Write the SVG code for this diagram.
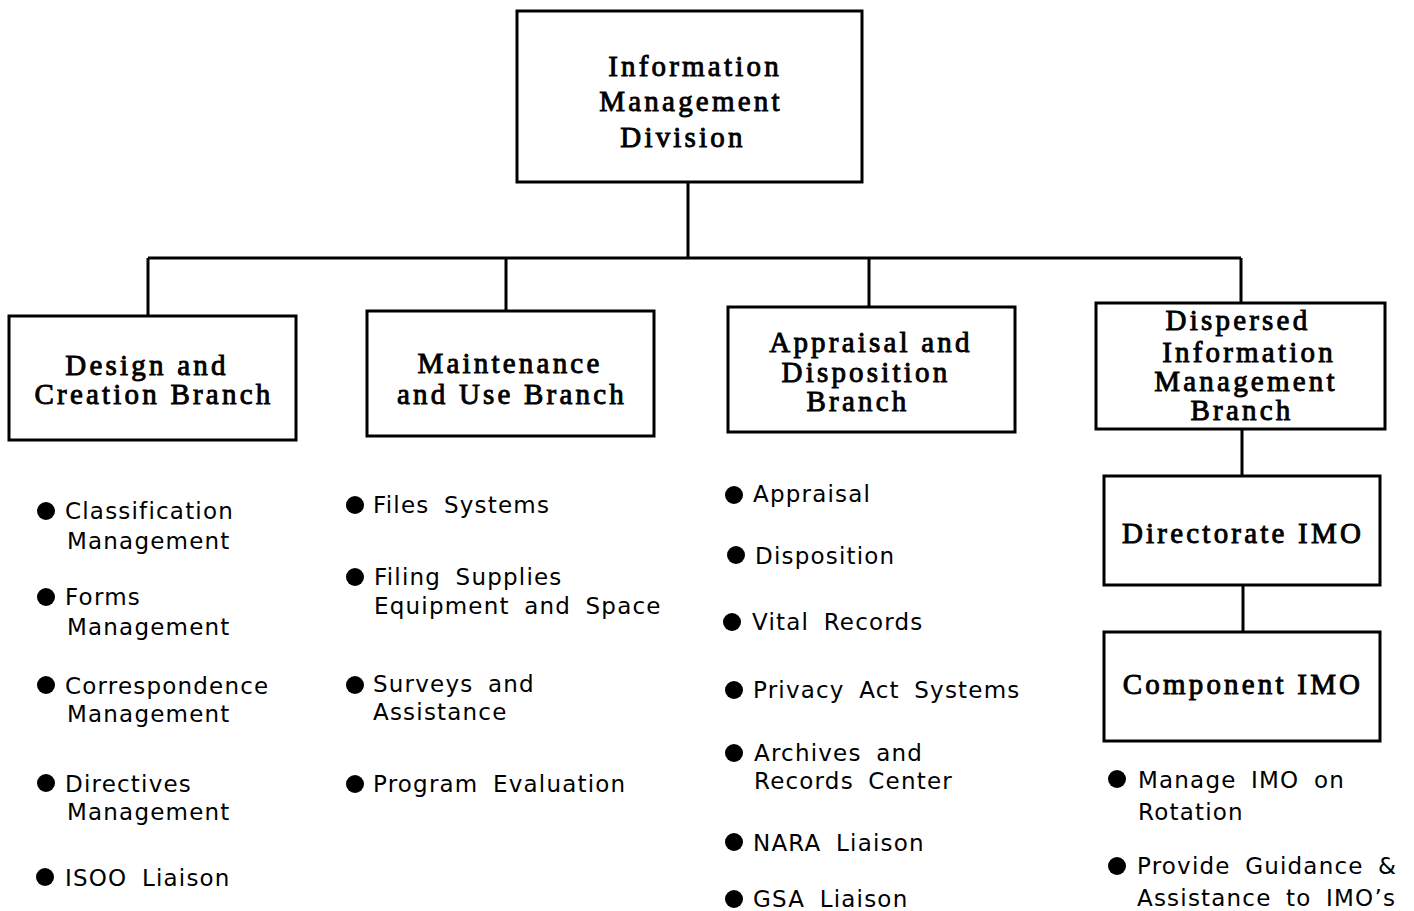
<svg xmlns="http://www.w3.org/2000/svg" width="1414" height="911" viewBox="0 0 1414 911">
<style>
.box{fill:#fff;stroke:#000;stroke-width:3}
.ln{stroke:#000;stroke-width:3;fill:none}
.t{font-family:"Liberation Serif",serif;font-weight:normal;font-size:29px;letter-spacing:3.2px;text-anchor:middle;fill:#000;stroke:#000;stroke-width:0.9px}
.b{font-family:"DejaVu Sans","Liberation Sans",sans-serif;font-size:23px;letter-spacing:1.2px;word-spacing:6px;fill:#000}
.d{fill:#000}
</style>
<rect width="1414" height="911" fill="#fff"/>
<g id="connectors">
<path class="ln" d="M688 182V258M148 258H1241M148 258V316M506 258V311M869 258V307M1241 258V303M1242 429V476M1243 585V632"/>
</g>
<g id="division">
<rect class="box" x="517" y="11" width="345" height="171"/>
<text class="t" x="695" y="76">Information</text>
<text class="t" x="691" y="111">Management</text>
<text class="t" x="683" y="147">Division</text>
</g>
<g id="design">
<rect class="box" x="9" y="316" width="287" height="124"/>
<text class="t" x="147" y="375">Design and</text>
<text class="t" x="154" y="404">Creation Branch</text>
</g>
<g id="maintenance">
<rect class="box" x="367" y="311" width="287" height="125"/>
<text class="t" x="510" y="373">Maintenance</text>
<text class="t" x="512" y="404">and Use Branch</text>
</g>
<g id="appraisal">
<rect class="box" x="728" y="307" width="287" height="125"/>
<text class="t" x="871" y="352">Appraisal and</text>
<text class="t" x="866" y="382">Disposition</text>
<text class="t" x="858" y="411">Branch</text>
</g>
<g id="dispersed">
<rect class="box" x="1096" y="303" width="289" height="126"/>
<text class="t" x="1238" y="330">Dispersed</text>
<text class="t" x="1249" y="362">Information</text>
<text class="t" x="1246" y="391">Management</text>
<text class="t" x="1242" y="420">Branch</text>
</g>
<g id="directorate">
<rect class="box" x="1104" y="476" width="276" height="109"/>
<text class="t" x="1243" y="543">Directorate IMO</text>
</g>
<g id="component">
<rect class="box" x="1104" y="632" width="276" height="109"/>
<text class="t" x="1243" y="694">Component IMO</text>
</g>
<g id="design-list">
<circle class="d" cx="46" cy="511" r="9"/><text class="b" x="65" y="519">Classification</text><text class="b" x="67" y="549">Management</text>
<circle class="d" cx="46" cy="597" r="9"/><text class="b" x="65" y="605">Forms</text><text class="b" x="67" y="635">Management</text>
<circle class="d" cx="46" cy="685" r="9"/><text class="b" x="65" y="694">Correspondence</text><text class="b" x="67" y="722">Management</text>
<circle class="d" cx="46" cy="783" r="9"/><text class="b" x="65" y="792">Directives</text><text class="b" x="67" y="820">Management</text>
<circle class="d" cx="45" cy="877" r="9"/><text class="b" x="65" y="886">ISOO Liaison</text>
</g>
<g id="maintenance-list">
<circle class="d" cx="355" cy="505" r="9"/><text class="b" x="373" y="513">Files Systems</text>
<circle class="d" cx="355" cy="577" r="9"/><text class="b" x="374" y="585">Filing Supplies</text><text class="b" x="374" y="614">Equipment and Space</text>
<circle class="d" cx="355" cy="685" r="9"/><text class="b" x="373" y="692">Surveys and</text><text class="b" x="373" y="720">Assistance</text>
<circle class="d" cx="355" cy="784" r="9"/><text class="b" x="373" y="792">Program Evaluation</text>
</g>
<g id="appraisal-list">
<circle class="d" cx="734" cy="495" r="9"/><text class="b" x="753" y="502">Appraisal</text>
<circle class="d" cx="736" cy="555" r="9"/><text class="b" x="755" y="564">Disposition</text>
<circle class="d" cx="732" cy="622" r="9"/><text class="b" x="752" y="630">Vital Records</text>
<circle class="d" cx="734" cy="690" r="9"/><text class="b" x="753" y="698">Privacy Act Systems</text>
<circle class="d" cx="734" cy="753" r="9"/><text class="b" x="754" y="761">Archives and</text><text class="b" x="754" y="789">Records Center</text>
<circle class="d" cx="734" cy="842" r="9"/><text class="b" x="753" y="851">NARA Liaison</text>
<circle class="d" cx="734" cy="899" r="9"/><text class="b" x="753" y="907">GSA Liaison</text>
</g>
<g id="imo-list">
<circle class="d" cx="1117" cy="779" r="9"/><text class="b" x="1138" y="788">Manage IMO on</text><text class="b" x="1138" y="820">Rotation</text>
<circle class="d" cx="1117" cy="866" r="9"/><text class="b" x="1137" y="874">Provide Guidance &amp;</text><text class="b" x="1137" y="906">Assistance to IMO’s</text>
</g>
</svg>
